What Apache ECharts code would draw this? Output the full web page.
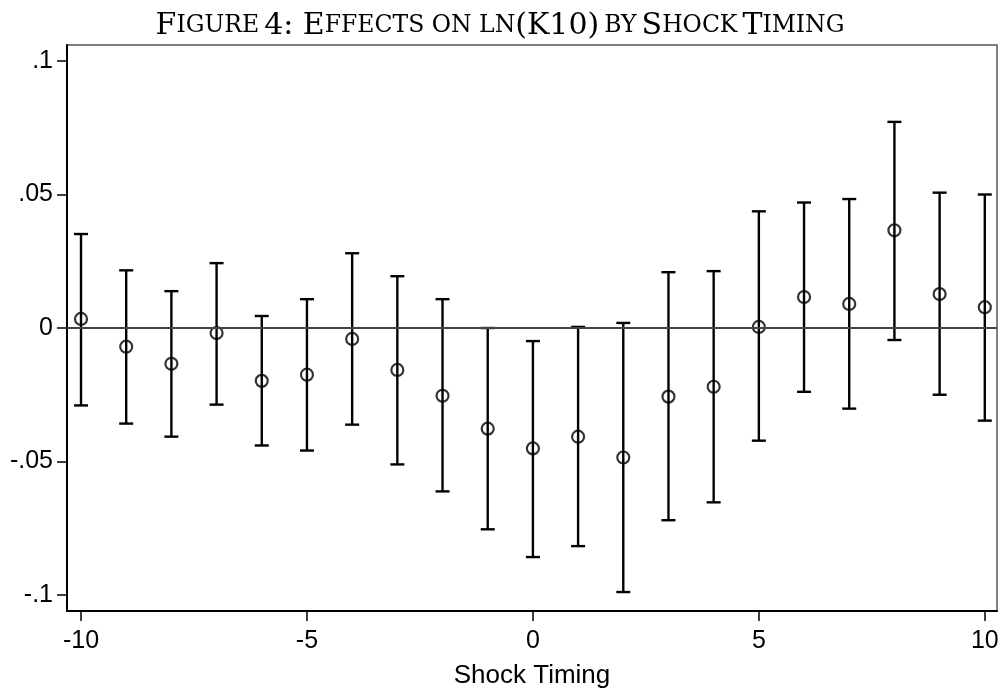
<!DOCTYPE HTML>
<html>
<head>
	<meta charset="utf-8" />
	<title>Effects on ln(K10) by Shock Timing</title>
	<script src="https://cdn.jsdelivr.net/npm/echarts@6/dist/echarts.min.js"></script>
	<style>
		html, body { margin: 0; padding: 0; background: #fff; }
		#main { width: 1000px; height: 688px; }
	</style>
</head>
<body>
	<div id="main"></div>
	<script type="text/javascript">
		// shock timing relative to event
		var timing = [-10, -9, -8, -7, -6, -5, -4, -3, -2, -1, 0, 1, 2, 3, 4, 5, 6, 7, 8, 9, 10];
		// point estimates
		var estimate = [0.0034, -0.0070, -0.0134, -0.0019, -0.0198, -0.0175, -0.0041, -0.0157, -0.0254, -0.0377,
			-0.0451, -0.0407, -0.0485, -0.0257, -0.0220, 0.0004, 0.0116, 0.0090, 0.0366, 0.0127, 0.0078];
		// confidence interval bounds
		var lower = [-0.0290, -0.0358, -0.0407, -0.0287, -0.0440, -0.0459, -0.0362, -0.0511, -0.0612, -0.0754,
			-0.0858, -0.0817, -0.0989, -0.0720, -0.0653, -0.0422, -0.0239, -0.0302, -0.0045, -0.0250, -0.0347];
		var upper = [0.0352, 0.0216, 0.0138, 0.0243, 0.0045, 0.0108, 0.0280, 0.0194, 0.0108, 0.0000,
			-0.0049, 0.0004, 0.0019, 0.0209, 0.0213, 0.0437, 0.0470, 0.0483, 0.0772, 0.0507, 0.0500];
		var xTicks = [-10, -5, 0, 5, 10];
		var yTicks = [-0.1, -0.05, 0, 0.05, 0.1];

		var ciData = [];
		var pointData = [];
		for (var i = 0; i < timing.length; i++) {
			ciData.push([timing[i], lower[i], upper[i]]);
			pointData.push([timing[i], estimate[i]]);
		}

		function renderCI(params, api) {
			var lo = api.coord([api.value(0), api.value(1)]);
			var hi = api.coord([api.value(0), api.value(2)]);
			var w = 7;
			var st = { stroke: '#000', lineWidth: 2.4 };
			return {
				type: 'group',
				children: [
					{ type: 'line', shape: { x1: lo[0], y1: lo[1], x2: hi[0], y2: hi[1] }, style: st },
					{ type: 'line', shape: { x1: lo[0] - w, y1: lo[1], x2: lo[0] + w, y2: lo[1] }, style: st },
					{ type: 'line', shape: { x1: hi[0] - w, y1: hi[1], x2: hi[0] + w, y2: hi[1] }, style: st }
				]
			};
		}

		function fmtY(v) {
			var s = String(Math.round(v * 1000) / 1000);
			return s.replace('0.', '.');
		}

		var sans = 'Liberation Sans';
		var serif = 'DejaVu Serif';
		var myChart = echarts.init(document.getElementById('main'));
		var option = {
			animation: false,
			backgroundColor: '#fff',
			title: {
				text: '{b|F}{s|IGURE} {b|4: E}{s|FFECTS ON LN}{b|(K10)} {s|BY} {b|S}{s|HOCK} {b|T}{s|IMING}',
				left: 'center',
				top: 6,
				textStyle: {
					fontWeight: 'normal',
					rich: {
						b: { fontFamily: serif, fontSize: 30, fontWeight: 'normal', color: '#000' },
						s: { fontFamily: serif, fontSize: 23.5, fontWeight: 'normal', color: '#000' }
					}
				}
			},
			grid: {
				left: 67, right: 3, top: 45, bottom: 77,
				outerBoundsMode: 'none',
				show: true, borderColor: '#555', borderWidth: 1.5
			},
			xAxis: {
				type: 'value',
				min: -10.31, max: 10.27,
				name: 'Shock Timing',
				nameLocation: 'middle',
				nameGap: 52,
				nameTextStyle: { fontFamily: sans, fontSize: 26, color: '#000' },
				axisLine: { onZero: false, lineStyle: { color: '#000', width: 2 } },
				axisTick: { show: true, length: 10, lineStyle: { color: '#000', width: 1.5 }, customValues: xTicks },
				axisLabel: { fontFamily: sans, fontSize: 25, color: '#000', margin: 18, customValues: xTicks },
				splitLine: { show: false }
			},
			yAxis: {
				type: 'value',
				min: -0.106, max: 0.106,
				axisLine: { show: true, onZero: false, lineStyle: { color: '#000', width: 2 } },
				axisTick: { show: true, length: 10, lineStyle: { color: '#000', width: 1.5 }, customValues: yTicks },
				axisLabel: { fontFamily: sans, fontSize: 25, color: '#000', margin: 14, customValues: yTicks, formatter: fmtY },
				splitLine: { show: false }
			},
			series: [
				{
					type: 'custom',
					renderItem: renderCI,
					data: ciData,
					encode: { x: 0, y: [1, 2] },
					z: 2,
					markLine: {
						silent: true,
						symbol: 'none',
						label: { show: false },
						lineStyle: { color: '#444', width: 1.8, type: 'solid' },
						data: [{ yAxis: 0 }]
					}
				},
				{
					type: 'scatter',
					data: pointData,
					symbol: 'circle',
					symbolSize: 12,
					itemStyle: { color: 'rgba(0,0,0,0)', borderColor: '#000', borderWidth: 2.2 },
					z: 3
				}
			]
		};
		myChart.setOption(option);
	</script>
</body>
</html>
